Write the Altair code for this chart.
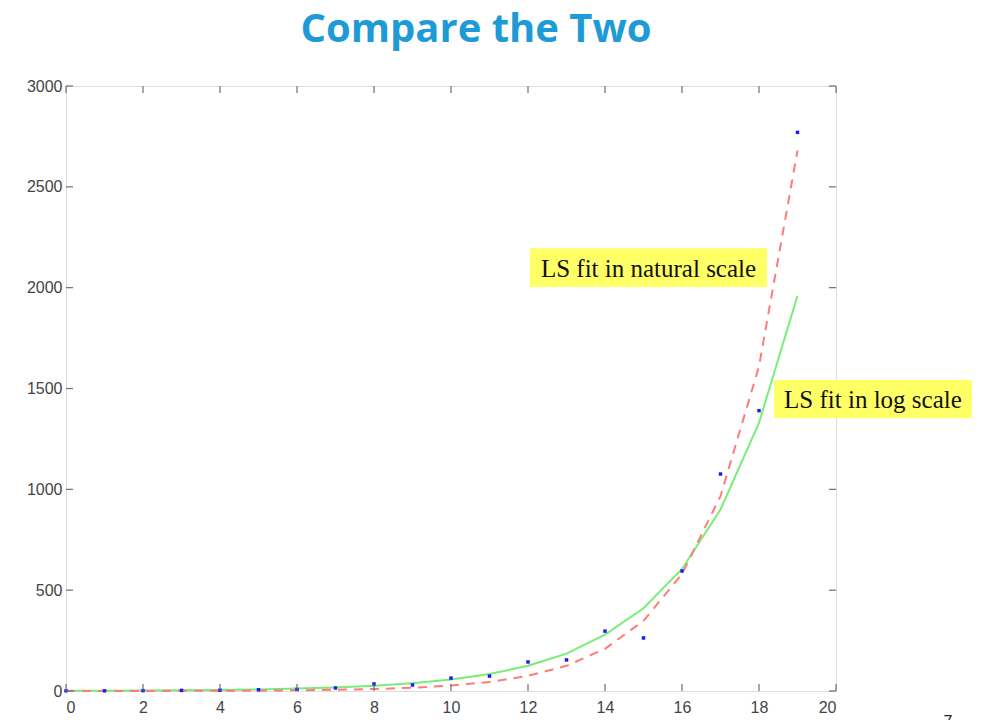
import altair as alt
import pandas as pd

# Observed counts and the two least-squares exponential fits
xs = list(range(20))
observed = [1, 1, 2, 3, 4, 6, 8, 15, 35, 30, 64, 74, 144, 154, 297, 263, 595, 1076, 1390, 2770]
fit_log = [1.1, 1.6, 2.4, 3.6, 5.3, 7.9, 12, 17, 26, 38, 57, 84, 125, 185, 280, 410, 605, 900, 1330, 1960]
fit_natural = [0.17, 0.28, 0.46, 0.77, 1.3, 2.1, 3.5, 5.9, 9.8, 16, 27, 45, 75, 125, 209, 348, 580, 966, 1610, 2680]

x_ticks = [0, 2, 4, 6, 8, 10, 12, 14, 16, 18, 20]
y_ticks = [0, 500, 1000, 1500, 2000, 2500, 3000]

labels = ["LS fit in natural scale", "LS fit in log scale"]
label_x0 = [12.05, 18.39]
label_x1 = [18.21, 23.53]
label_y0 = [2003, 1353]
label_y1 = [2196, 1542]

W, H = 770, 605

df = pd.DataFrame({"x": xs, "obs": observed, "log": fit_log, "nat": fit_natural})
xt = pd.DataFrame({"t": x_ticks})
yt = pd.DataFrame({"t": y_ticks})
lab = pd.DataFrame({"text": labels, "x0": label_x0, "x1": label_x1, "y0": label_y0, "y1": label_y1})

xscale = alt.Scale(domain=[0, 20], nice=False, zero=False)
yscale = alt.Scale(domain=[0, 3000], nice=False)

axis_common = dict(
    domain=False, ticks=False, grid=False, labelFont="Liberation Sans",
    labelFontSize=16, labelColor="#444444", title=None, format="d",
)
X = alt.X("x:Q", scale=xscale, axis=alt.Axis(values=x_ticks, labelPadding=8, **axis_common))
Y = alt.Y("obs:Q", scale=yscale, axis=alt.Axis(values=y_ticks, labelPadding=4, **axis_common))

base = alt.Chart(df)

green = base.mark_line(color="#77ee77", strokeWidth=2, clip=False).encode(
    x=X, y=alt.Y("log:Q", scale=yscale))
red = base.mark_line(color="#ff7b7b", strokeWidth=2, strokeDash=[9, 7], clip=False).encode(
    x=alt.X("x:Q", scale=xscale), y=alt.Y("nat:Q", scale=yscale))
dots = base.mark_square(color="#1a1aff", size=12, opacity=1).encode(
    x=alt.X("x:Q", scale=xscale), y=Y)

# Inward tick marks on all four sides (MATLAB-style box)
tick_style = dict(color="#6e6e6e", strokeWidth=1.2)
xt_bottom = alt.Chart(xt).mark_rule(**tick_style).encode(
    x=alt.X("t:Q", scale=xscale), y=alt.value(H), y2=alt.value(H - 7))
xt_top = alt.Chart(xt).mark_rule(**tick_style).encode(
    x=alt.X("t:Q", scale=xscale), y=alt.value(0), y2=alt.value(7))
yt_left = alt.Chart(yt).mark_rule(**tick_style).encode(
    y=alt.Y("t:Q", scale=yscale), x=alt.value(0), x2=alt.value(7))
yt_right = alt.Chart(yt).mark_rule(**tick_style).encode(
    y=alt.Y("t:Q", scale=yscale), x=alt.value(W), x2=alt.value(W - 7))

boxes = alt.Chart(lab).mark_rect(color="#ffff66", clip=False).encode(
    x=alt.X("x0:Q", scale=xscale), x2="x1", y=alt.Y("y0:Q", scale=yscale), y2="y1")
texts = alt.Chart(lab).mark_text(
    font="Liberation Serif", fontSize=25, color="#111111", baseline="middle", align="center", dy=1
).transform_calculate(xm="(datum.x0 + datum.x1) / 2", ym="(datum.y0 + datum.y1) / 2").encode(
    x=alt.X("xm:Q", scale=xscale), y=alt.Y("ym:Q", scale=yscale), text="text:N")

title = alt.Chart(pd.DataFrame({"t": ["Compare the Two"]})).mark_text(
    font="Open Sans", fontWeight="bold", fontSize=40, color="#1e9bd6", baseline="middle", align="center"
).encode(x=alt.value(410), y=alt.value(-56), text="t:N")

# Slide number at the lower right corner
page = alt.Chart(pd.DataFrame({"t": ["7"]})).mark_text(
    font="Liberation Sans", fontSize=16, color="#222222", baseline="alphabetic", align="center"
).encode(x=alt.value(882), y=alt.value(641), text="t:N")

chart = alt.layer(
    green, red, dots, xt_bottom, xt_top, yt_left, yt_right, boxes, texts, title, page
).properties(
    width=W, height=H,
    autosize=alt.AutoSizeParams(type="none"),
    padding={"left": 66, "top": 86, "right": 146, "bottom": 29},
).configure_view(stroke="#7a7a7a", strokeWidth=2).configure(background="white")

chart.save("out.html", embed_options={"renderer": "svg", "actions": False})
